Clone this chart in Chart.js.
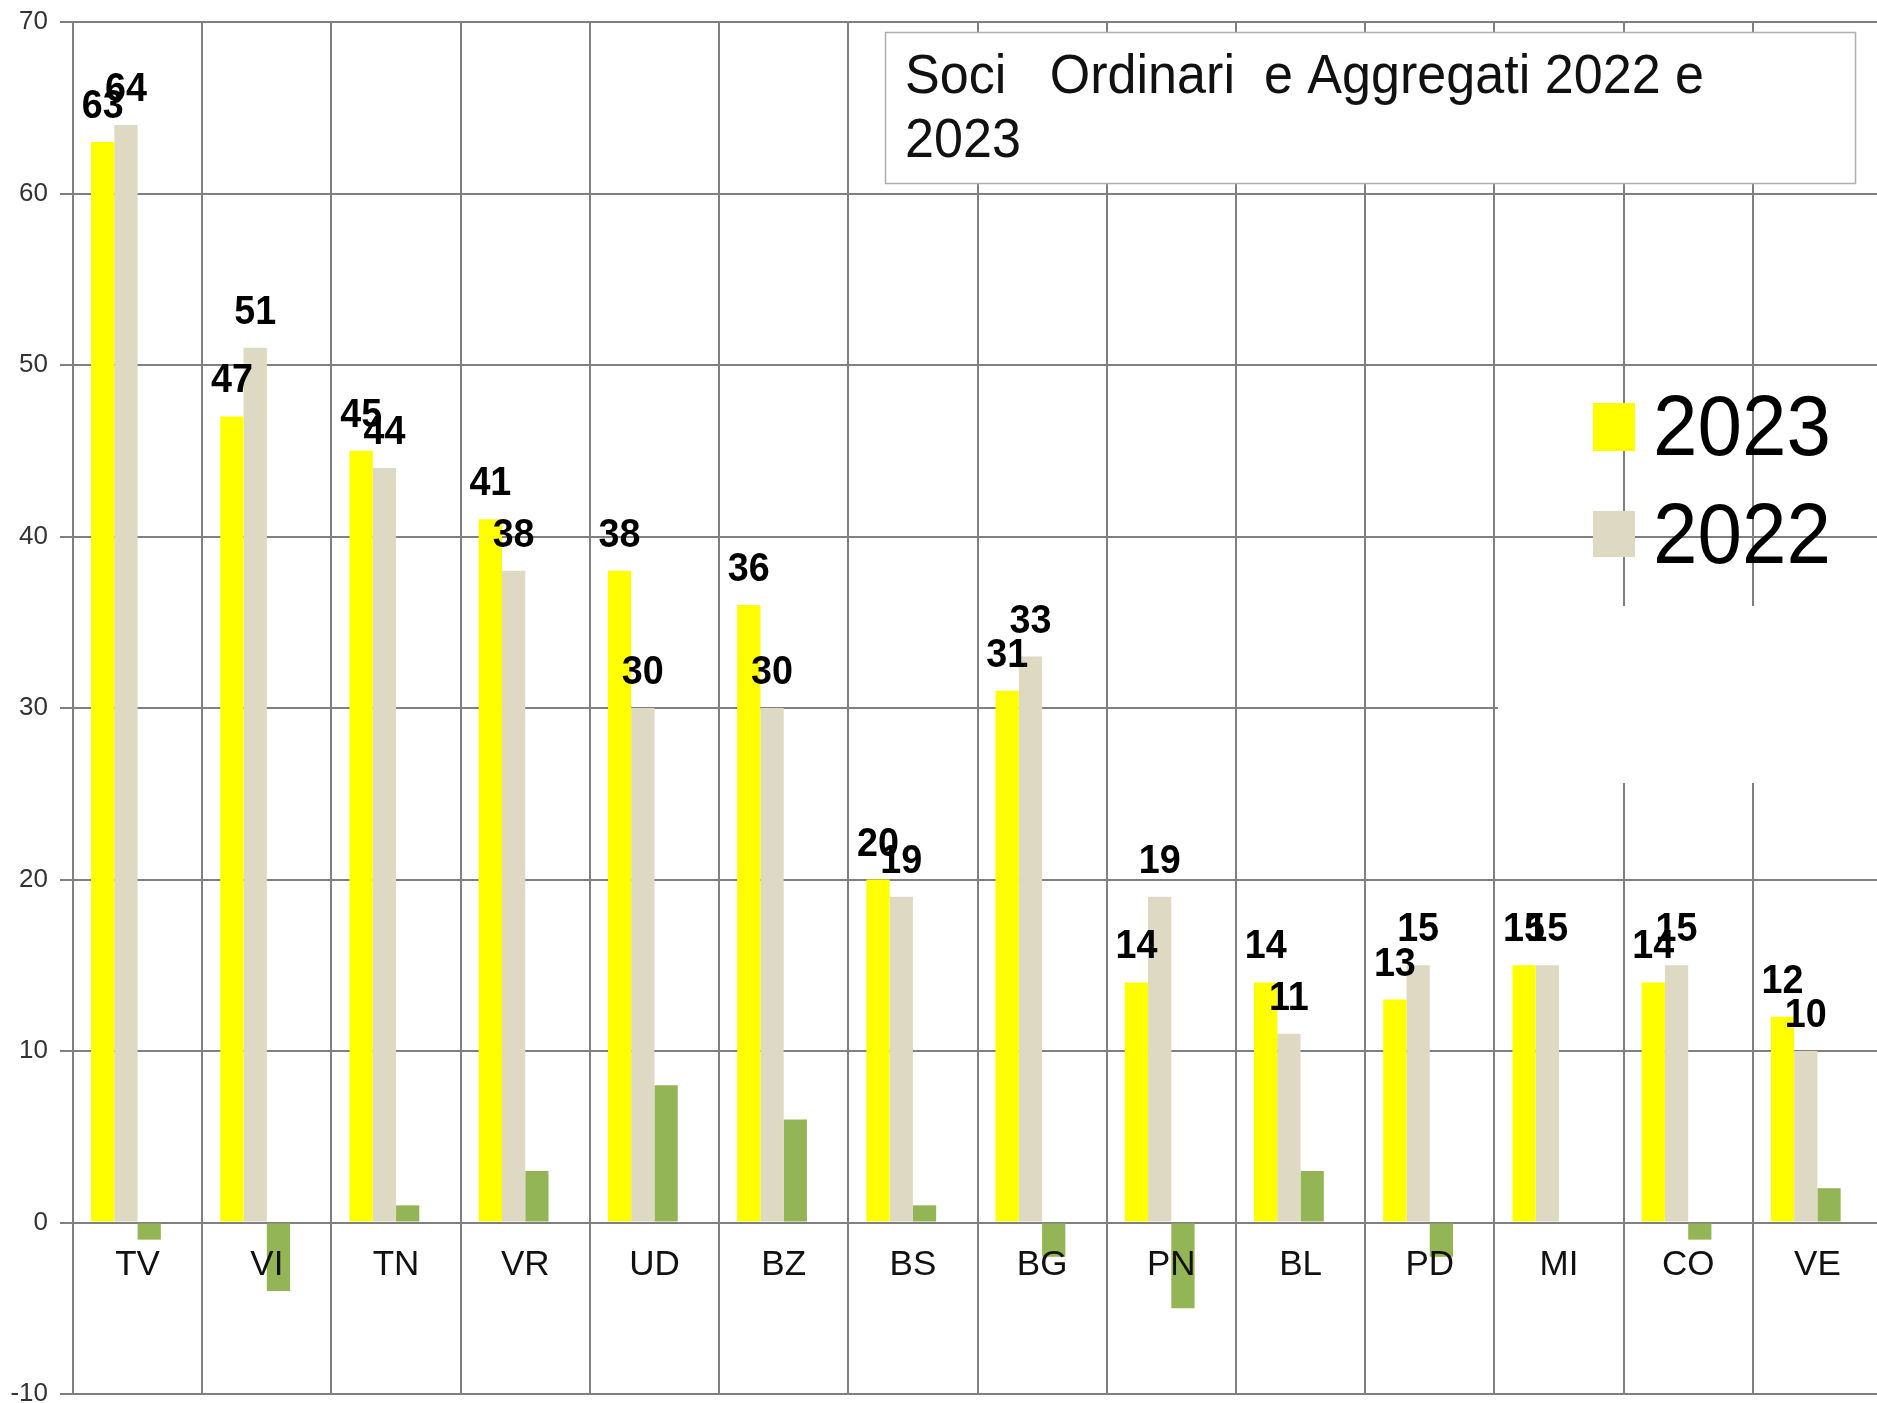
<!DOCTYPE html>
<html>
<head>
<meta charset="utf-8">
<script src="https://cdn.jsdelivr.net/npm/chart.js@4/dist/chart.umd.min.js"></script>
<style>
html,body{margin:0;padding:0;overflow:hidden;background:#fff;width:1877px;height:1403px}
#wrap{position:absolute;left:0;top:0;width:1884px;height:1403px}
</style>
</head>
<body>
<div id="wrap"><canvas id="c"></canvas></div>
<script>
// ---- data ----
const categories = ['TV','VI','TN','VR','UD','BZ','BS','BG','PN','BL','PD','MI','CO','VE'];
const soci2023   = [63, 47, 45, 41, 38, 36, 20, 31, 14, 14, 13, 15, 14, 12];
const soci2022   = [64, 51, 44, 38, 30, 30, 19, 33, 19, 11, 15, 15, 15, 10];
const differenza = [-1, -4,  1,  3,  8,  6,  1, -2, -5,  3, -2,  0, -1,  2];
const vuoto      = [null,null,null,null,null,null,null,null,null,null,null,null,null,null];
const seriesNames = ['2023', '2022', 'Differenza', ''];
const yTicks = { min: -10, max: 70, step: 10 };
const titleLines = ['Soci   Ordinari  e Aggregati 2022 e', '2023'];

// ---- styles ----
const FONT = '"Liberation Sans", Arial, Helvetica, sans-serif';
const GRID = '#808080';
const colors = ['#ffff00', '#ddd9c3', '#94b555', 'rgba(0,0,0,0)'];

function condensedText(ctx, text, x, y, align, sx) {
  ctx.save();
  ctx.translate(x, y);
  ctx.scale(sx, 1);
  ctx.textAlign = align;
  ctx.fillText(text, 0, 0);
  ctx.restore();
}

const decor = {
  id: 'decor',
  beforeDatasetsDraw(chart) {
    const ctx = chart.ctx;
    ctx.save();
    ctx.fillStyle = '#ffffff';
    // white patch on the right (part of legend frame)
    ctx.fillRect(1498, 606, 400, 177);
    // title box
    ctx.fillRect(885, 32, 970, 151);
    ctx.strokeStyle = '#b0b0b0';
    ctx.lineWidth = 1.5;
    ctx.strokeRect(885.5, 32.5, 970, 151);
    ctx.restore();
  },
  afterDatasetsDraw(chart) {
    const ctx = chart.ctx;
    ctx.save();
    // value labels for 2023 and 2022
    ctx.fillStyle = '#000';
    ctx.font = 'bold 41px ' + FONT;
    ctx.textBaseline = 'alphabetic';
    [0, 1].forEach(di => {
      const meta = chart.getDatasetMeta(di);
      meta.data.forEach((bar, i) => {
        const v = chart.data.datasets[di].data[i];
        if (v == null) return;
        condensedText(ctx, String(v), bar.x, bar.y - 24, 'center', 0.92);
      });
    });
    // title text
    ctx.font = '56px ' + FONT;
    ctx.fillStyle = '#111';
    condensedText(ctx, titleLines[0], 905, 93, 'left', 0.93);
    condensedText(ctx, titleLines[1], 905, 157, 'left', 0.93);
    // legend
    ctx.fillStyle = colors[0];
    ctx.fillRect(1593, 403, 42, 48);
    ctx.fillStyle = colors[1];
    ctx.fillRect(1593, 511, 42, 46);
    ctx.fillStyle = '#000';
    ctx.font = '86px ' + FONT;
    condensedText(ctx, seriesNames[0], 1653, 455, 'left', 0.93);
    condensedText(ctx, seriesNames[1], 1653, 563, 'left', 0.93);
    ctx.restore();
  }
};

const datasets = [soci2023, soci2022, differenza, vuoto].map((d, i) => ({
  label: seriesNames[i],
  data: d,
  backgroundColor: colors[i],
  borderWidth: 0,
  barPercentage: 1.0,
  categoryPercentage: 0.72
}));

new Chart(document.getElementById('c'), {
  type: 'bar',
  data: { labels: categories, datasets },
  plugins: [decor],
  options: {
    responsive: true,
    maintainAspectRatio: false,
    animation: false,
    devicePixelRatio: 1,
    layout: { padding: { top: 22, right: 2, bottom: 9, left: 0 } },
    plugins: { legend: { display: false }, title: { display: false }, tooltip: { enabled: false } },
    scales: {
      x: {
        type: 'category',
        position: { y: 0 },
        offset: true,
        grid: { color: GRID, lineWidth: 2, offset: true, drawTicks: true, tickLength: 8 },
        border: { display: true, color: GRID, width: 2 },
        ticks: { font: { family: FONT, size: 35 }, color: '#111', padding: 14, z: 1, maxRotation: 0, autoSkip: false },
        afterFit(scale) { scale.paddingTop = 0; scale.paddingBottom = 0; }
      },
      y: {
        min: yTicks.min,
        max: yTicks.max,
        ticks: { stepSize: yTicks.step, font: { family: FONT, size: 26, lineHeight: 0.6 }, color: '#333', padding: 12 },
        grid: { color: GRID, lineWidth: 2, tickLength: 13 },
        border: { display: true, color: GRID, width: 2 },
        afterFit(scale) { scale.width = 73; scale.paddingTop = 0; scale.paddingBottom = 0; }
      }
    }
  }
});
</script>
</body>
</html>
